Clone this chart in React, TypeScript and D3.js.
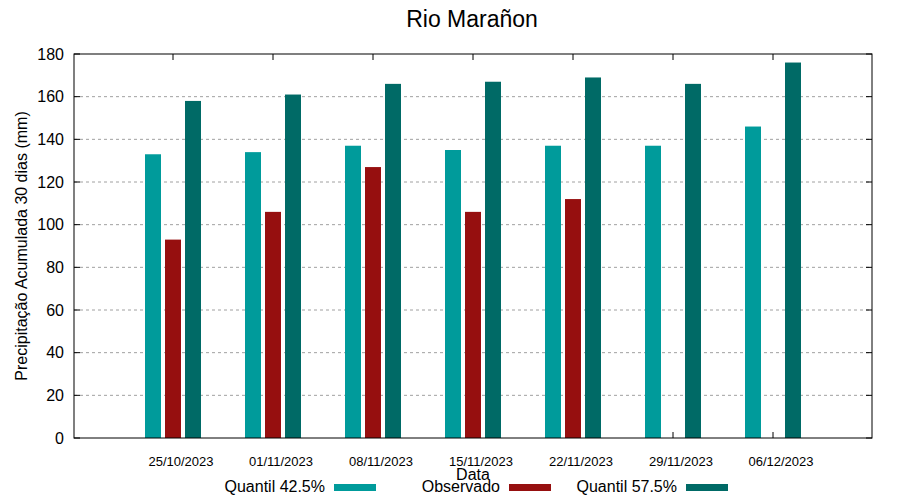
import React from "react";
import * as d3 from "d3";

const dates = ["25/10/2023", "01/11/2023", "08/11/2023", "15/11/2023", "22/11/2023", "29/11/2023", "06/12/2023"];
const q425 = [133, 134, 137, 135, 137, 137, 146];
const observed: (number | null)[] = [93, 106, 127, 106, 112, null, null];
const q575 = [158, 161, 166, 167, 169, 166, 176];
const yTicks = [0, 20, 40, 60, 80, 100, 120, 140, 160, 180];

const W = 900, H = 500;
const M = { left: 74, right: 872, top: 54, bottom: 438 };
const C_Q1 = "#009b9b", C_OBS = "#960f0f", C_Q2 = "#006a66";
const FONT = "'Liberation Sans', Arial, sans-serif";

export default function App() {
  const x = d3.scaleLinear().domain([-1, 7]).range([M.left - 1, M.right + 1]);
  const y = d3.scaleLinear().domain([0, 180]).range([M.bottom, M.top]);
  const bw = 16;
  const series = [
    { vals: q425 as (number | null)[], off: -20, color: C_Q1, name: "Quantil 42.5%" },
    { vals: observed, off: 0, color: C_OBS, name: "Observado" },
    { vals: q575 as (number | null)[], off: 20, color: C_Q2, name: "Quantil 57.5%" },
  ];
  const legendX = [325, 500, 677];
  return (
    <svg width={W} height={H} style={{ position: "absolute", left: 0, top: 0 }} fontFamily={FONT}>
      <rect width={W} height={H} fill="#fff" />
      {yTicks.map((t) => (
        <g key={t}>
          {t > 0 && t < 180 && (
            <line x1={M.left} x2={M.right} y1={y(t)} y2={y(t)} stroke="#a0a0a0" strokeDasharray="3,3" strokeWidth={1} />
          )}
          <line x1={M.left} x2={M.left + 6} y1={y(t)} y2={y(t)} stroke="#000" />
          <line x1={M.right - 6} x2={M.right} y1={y(t)} y2={y(t)} stroke="#000" />
          <text x={64} y={y(t)} dy="0.36em" textAnchor="end" fontSize={16}>{t}</text>
        </g>
      ))}
      {dates.map((d, i) => (
        <g key={d}>
          <line x1={x(i)} x2={x(i)} y1={M.bottom} y2={M.bottom - 6} stroke="#000" />
          <line x1={x(i)} x2={x(i)} y1={M.top} y2={M.top + 6} stroke="#000" />
          <text x={x(i) + 8} y={466} textAnchor="middle" fontSize={13}>{d}</text>
        </g>
      ))}
      {series.map((s) =>
        s.vals.map((v, i) =>
          v == null ? null : (
            <rect key={s.name + i} x={x(i) + s.off - bw / 2} y={y(v)} width={bw} height={y(0) - y(v)} fill={s.color} />
          )
        )
      )}
      <rect x={M.left} y={M.top} width={M.right - M.left} height={M.bottom - M.top} fill="none" stroke="#000" strokeWidth={1} />
      <text x={472} y={27} textAnchor="middle" fontSize={23}>Rio Marañon</text>
      <text transform={`translate(27,${(M.top + M.bottom) / 2}) rotate(-90)`} textAnchor="middle" fontSize={16}>
        Precipitação Acumulada 30 dias (mm)
      </text>
      <text x={473} y={480} textAnchor="middle" fontSize={16}>Data</text>
      {series.map((s, i) => (
        <g key={s.name}>
          <text x={legendX[i]} y={492} textAnchor="end" fontSize={16}>{s.name}</text>
          <rect x={legendX[i] + 9} y={484} width={42} height={7} fill={s.color} />
        </g>
      ))}
    </svg>
  );
}
